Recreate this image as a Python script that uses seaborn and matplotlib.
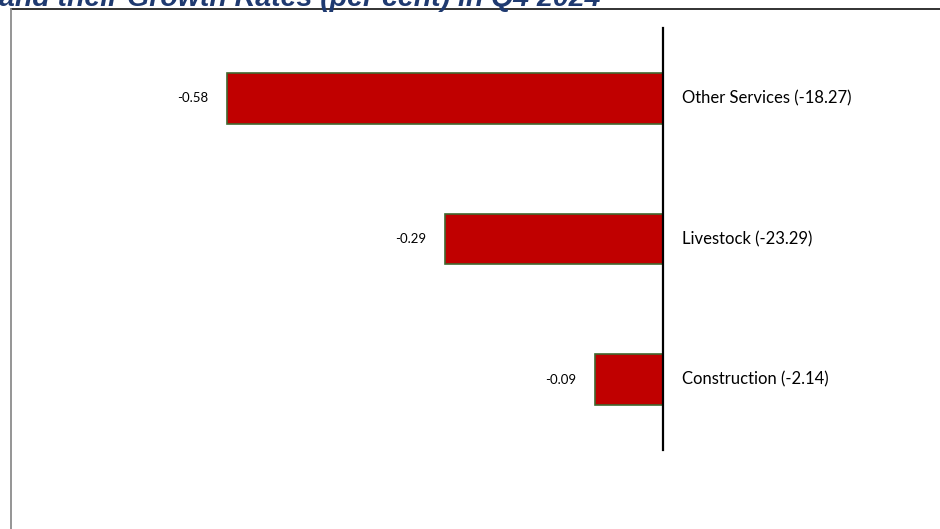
import matplotlib
matplotlib.use("Agg")
import matplotlib.pyplot as plt
import seaborn as sns
import pandas as pd
from matplotlib.lines import Line2D

# ---- data ----
sectors = ["Other Services", "Livestock", "Construction"]
growth_rates = [-18.27, -23.29, -2.14]
contributions = [-0.58, -0.29, -0.09]
title_text = "and their Growth Rates (per cent) in Q4 2024"

labels = [f"{s} ({g:.2f})" for s, g in zip(sectors, growth_rates)]
df = pd.DataFrame({"label": labels, "value": contributions})

sns.set_theme(style="white")
plt.rcParams["font.family"] = ["Lato", "DejaVu Sans"]

W, H = 940, 529
fig = plt.figure(figsize=(W / 100, H / 100), dpi=100)
fig.patch.set_facecolor("white")

# axes placed in pixel terms
ax_left, ax_right = 11, 940
ax_top, ax_bottom = 28, 450
ax = fig.add_axes([ax_left / W, 1 - ax_bottom / H, (ax_right - ax_left) / W, (ax_bottom - ax_top) / H])

sns.barplot(data=df, x="value", y="label", orient="h", ax=ax,
            color="#C00000", saturation=1, width=0.36,
            edgecolor="#41672F", linewidth=1.2)

# pixel scale: 0 at x=663, ~752 px per unit
scale = 752.0
x0 = 663
ax.set_xlim(-(x0 - ax_left) / scale, (ax_right - x0) / scale)
ax.set_ylim(2.5, -0.5)

for s in ["top", "right", "bottom"]:
    ax.spines[s].set_visible(False)
ax.spines["left"].set_position(("data", 0))
ax.spines["left"].set_color("black")
ax.spines["left"].set_linewidth(1.6)
ax.set_xticks([])
ax.set_yticks([])
ax.set_xlabel("")
ax.set_ylabel("")
ax.patch.set_alpha(0)

off = 19 / scale
for i, (lab, v) in enumerate(zip(labels, contributions)):
    ax.text(v - off, i, f"{v:.2f}", ha="right", va="center", fontsize=9.5, color="black")
    ax.text(off, i, lab, ha="left", va="center", fontsize=12, color="black")

# frame lines (figure border)
fig.add_artist(Line2D([11 / W, 1], [1 - 9 / H, 1 - 9 / H], transform=fig.transFigure,
                      color="#222222", linewidth=1.3))
fig.add_artist(Line2D([11 / W, 11 / W], [1 - 9 / H, 0], transform=fig.transFigure,
                      color="#8C8C8C", linewidth=1.3))

# clipped title (second line of a two-line title)
fig.text(-1 / W, 1 - 6 / H, title_text, ha="left", va="baseline",
         fontsize=20.5, fontweight="bold", fontstyle="italic", color="#1F3A70",
         family=["Liberation Sans", "DejaVu Sans"])

fig.savefig("out.png", dpi=100)
